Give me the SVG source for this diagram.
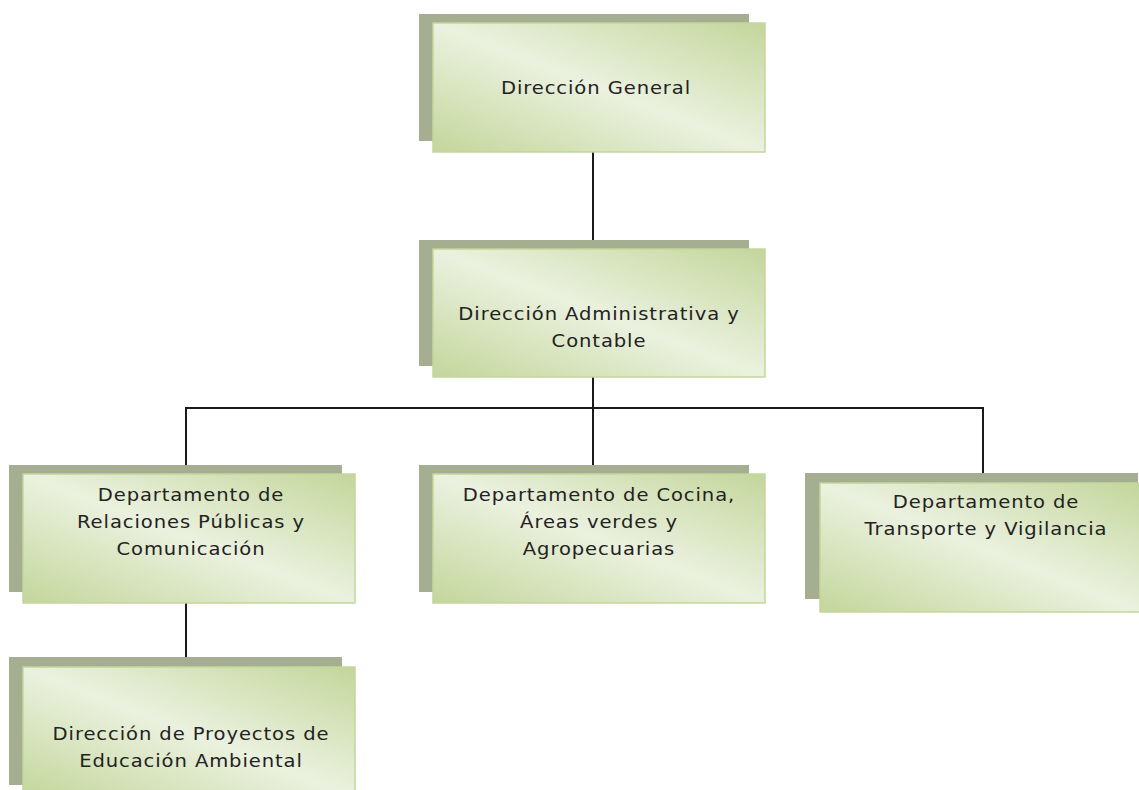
<svg xmlns="http://www.w3.org/2000/svg" width="1139" height="790" viewBox="0 0 1139 790">
<defs>
<linearGradient id="g" x1="1" y1="0" x2="0" y2="1">
<stop offset="0" stop-color="#c3d69b"/>
<stop offset="0.5" stop-color="#ebf1df"/>
<stop offset="1" stop-color="#c3d69b"/>
</linearGradient>
</defs>
<style>
.sh{fill:#a6ae92}
.bx{fill:url(#g);stroke:#c3d69b;stroke-width:1.5}
.t{font-family:"DejaVu Sans",Verdana,sans-serif;font-size:17px;letter-spacing:0.8px;fill:#222;text-anchor:middle}
.c{stroke:#1a1a1a;stroke-width:2;fill:none}
</style>
<rect width="1139" height="790" fill="#fff"/>
<g id="connectors">
<line class="c" x1="593" y1="152" x2="593" y2="249"/>
<line class="c" x1="593" y1="377" x2="593" y2="474"/>
<line class="c" x1="186" y1="408" x2="983" y2="408"/>
<line class="c" x1="186" y1="407" x2="186" y2="474"/>
<line class="c" x1="983" y1="407" x2="983" y2="483"/>
<line class="c" x1="186" y1="603" x2="186" y2="667"/>
</g>
<g id="n1">
<rect class="sh" x="419" y="14" width="330" height="127"/>
<rect class="bx" x="433" y="23" width="332" height="129"/>
<g transform="translate(596,0) scale(1.15,1)">
<text class="t" x="0" y="94">Dirección General</text>
</g>
</g>
<g id="n2">
<rect class="sh" x="419" y="240" width="330" height="126"/>
<rect class="bx" x="433" y="249" width="332" height="128"/>
<g transform="translate(599,0) scale(1.15,1)">
<text class="t" x="0" y="320">Dirección Administrativa y</text>
<text class="t" x="0" y="347">Contable</text>
</g>
</g>
<g id="n3">
<rect class="sh" x="9" y="465" width="333" height="127"/>
<rect class="bx" x="23" y="474" width="332" height="129"/>
<g transform="translate(191,0) scale(1.15,1)">
<text class="t" x="0" y="501">Departamento de</text>
<text class="t" x="0" y="528">Relaciones Públicas y</text>
<text class="t" x="0" y="555">Comunicación</text>
</g>
</g>
<g id="n4">
<rect class="sh" x="419" y="465" width="330" height="127"/>
<rect class="bx" x="433" y="474" width="332" height="129"/>
<g transform="translate(599,0) scale(1.15,1)">
<text class="t" x="0" y="501">Departamento de Cocina,</text>
<text class="t" x="0" y="528">Áreas verdes y</text>
<text class="t" x="0" y="555">Agropecuarias</text>
</g>
</g>
<g id="n5">
<rect class="sh" x="805" y="473" width="333" height="126"/>
<rect class="bx" x="820" y="483" width="322" height="129"/>
<g transform="translate(986,0) scale(1.15,1)">
<text class="t" x="0" y="508">Departamento de</text>
<text class="t" x="0" y="535">Transporte y Vigilancia</text>
</g>
</g>
<g id="n6">
<rect class="sh" x="9" y="657" width="333" height="128"/>
<rect class="bx" x="23" y="667" width="332" height="130"/>
<g transform="translate(191,0) scale(1.15,1)">
<text class="t" x="0" y="740">Dirección de Proyectos de</text>
<text class="t" x="0" y="767">Educación Ambiental</text>
</g>
</g>
</svg>
